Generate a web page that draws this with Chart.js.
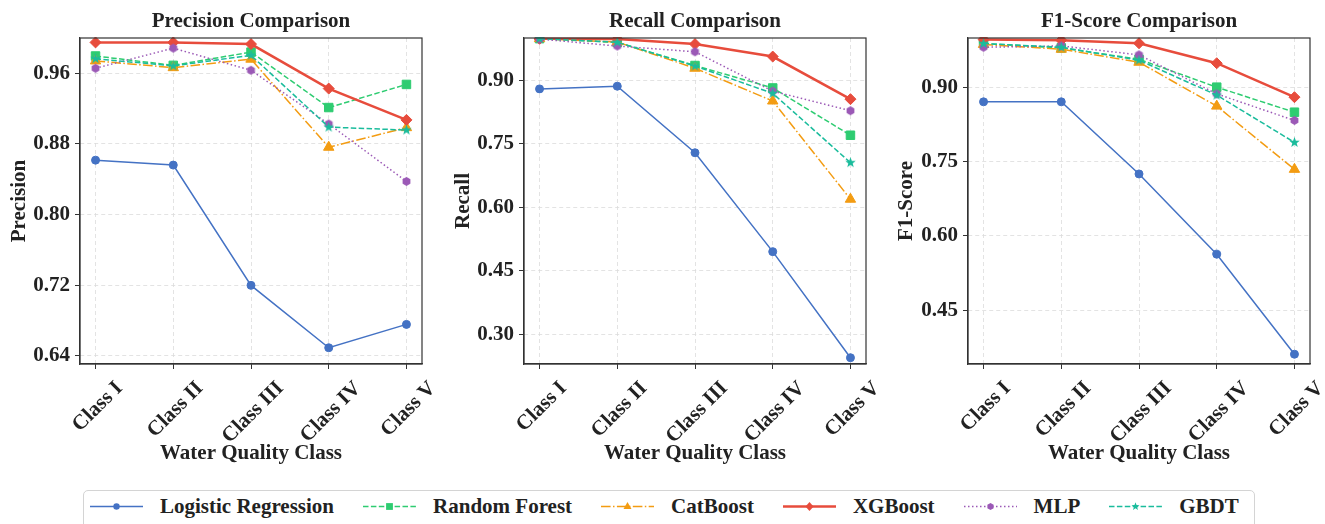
<!DOCTYPE html>
<html>
<head>
<meta charset="utf-8">
<title>Model comparison by water quality class</title>
<script src="https://cdn.jsdelivr.net/npm/chart.js@4.4.0/dist/chart.umd.min.js"></script>
<style>
  html, body { margin: 0; padding: 0; background: #fff; }
  #wrap { position: relative; width: 1325px; height: 524px; overflow: hidden; }
  #wrap canvas { position: absolute; top: 0; }
  #legend {
    position: absolute; left: 83px; top: 490px; width: 1172px; height: 44px;
    box-sizing: border-box; border: 1px solid #d4d4d4; border-radius: 5px;
    display: flex; align-items: flex-start; padding: 4px 0 0 6px;
    font: bold 21px "Liberation Serif", "Times New Roman", serif; color: #222;
  }
  .item { display: flex; align-items: center; height: 23px; margin-right: 29px; white-space: nowrap; }
  .item svg { margin-right: 17px; }
</style>
</head>
<body>
<div id="wrap">
  <div id="legend"></div>
</div>
<script>
// categories and series
const classes = ['Class I', 'Class II', 'Class III', 'Class IV', 'Class V'];
const models = ['Logistic Regression', 'Random Forest', 'CatBoost', 'XGBoost', 'MLP', 'GBDT'];

// one row per model, same order as models
const precision = [
  [0.8616, 0.8560, 0.7197, 0.6490, 0.6755],
  [0.9796, 0.9690, 0.9840, 0.9212, 0.9474],
  [0.9740, 0.9664, 0.9760, 0.8762, 0.8984],
  [0.9950, 0.9950, 0.9931, 0.9427, 0.9072],
  [0.9657, 0.9885, 0.9634, 0.9026, 0.8375],
  [0.9765, 0.9684, 0.9804, 0.8990, 0.8957]
];
const recall = [
  [0.8798, 0.8862, 0.7290, 0.4955, 0.2450],
  [0.9985, 0.9896, 0.9350, 0.8820, 0.7704],
  [0.9985, 0.9905, 0.9286, 0.8512, 0.6193],
  [0.9980, 0.9975, 0.9856, 0.9562, 0.8556],
  [0.9975, 0.9810, 0.9675, 0.8745, 0.8283],
  [0.9985, 0.9900, 0.9337, 0.8693, 0.7057]
];
const f1 = [
  [0.8710, 0.8710, 0.7252, 0.5630, 0.3608],
  [0.9888, 0.9800, 0.9570, 0.9006, 0.8500],
  [0.9870, 0.9773, 0.9510, 0.8623, 0.7345],
  [0.9970, 0.9955, 0.9894, 0.9490, 0.8804],
  [0.9813, 0.9840, 0.9659, 0.8870, 0.8334],
  [0.9888, 0.9813, 0.9551, 0.8845, 0.7890]
];

// y tick labels per panel
const precisionTicks = [0.64, 0.72, 0.80, 0.88, 0.96];
const recallTicks = [0.30, 0.45, 0.60, 0.75, 0.90];
const f1Ticks = [0.45, 0.60, 0.75, 0.90];

const FONT = '"Liberation Serif", "Times New Roman", serif';
const SIZE = 21;
const INK = '#222';
Chart.defaults.font.family = FONT;
Chart.defaults.font.weight = 'bold';
Chart.defaults.font.size = SIZE;
Chart.defaults.color = INK;

const colors = ['#4472C4', '#2ECC71', '#F39C12', '#E74C3C', '#9B59B6', '#1ABC9C'];
const widths = [1.5, 1.5, 1.5, 2.5, 1.5, 1.5];
const dashes = [[], [5.5, 2.4], [9.6, 2.4, 1.5, 2.4], [], [1.5, 2.5], [5.5, 2.4]];

function hexagon(color, r) {
  const c = document.createElement('canvas');
  const s = Math.ceil(2 * r + 2);
  c.width = c.height = s;
  const g = c.getContext('2d');
  g.fillStyle = color;
  g.beginPath();
  for (let i = 0; i < 6; i++) {
    const a = Math.PI / 2 + i * Math.PI / 3;
    g.lineTo(s / 2 + r * Math.cos(a), s / 2 - r * Math.sin(a));
  }
  g.closePath();
  g.fill();
  return c;
}

function star(color, r) {
  const c = document.createElement('canvas');
  const s = Math.ceil(2 * r + 2);
  c.width = c.height = s;
  const g = c.getContext('2d');
  g.fillStyle = color;
  g.beginPath();
  for (let i = 0; i < 10; i++) {
    const a = Math.PI / 2 + i * Math.PI / 5;
    const rr = i % 2 ? r * 0.42 : r;
    g.lineTo(s / 2 + rr * Math.cos(a), s / 2 - rr * Math.sin(a));
  }
  g.closePath();
  g.fill();
  return c;
}

const markers = ['circle', 'rect', 'triangle', 'rectRot', hexagon(colors[4], 4.5), star(colors[5], 5.5)];
const radii = [4, 6, 6, 5.5, 4, 4];

// full box around the plot area
const framePlugin = {
  id: 'frame',
  afterDatasetsDraw(chart) {
    const { ctx, chartArea: a } = chart;
    ctx.save();
    ctx.strokeStyle = '#333';
    ctx.lineWidth = 1.2;
    ctx.strokeRect(a.left, a.top, a.right - a.left, a.bottom - a.top);
    ctx.restore();
  }
};

// panel title centred over the plot area rather than the whole canvas
const panelTitlePlugin = {
  id: 'panelTitle',
  afterDraw(chart, args, opts) {
    const a = chart.chartArea;
    const ctx = chart.ctx;
    ctx.save();
    ctx.font = 'bold ' + SIZE + 'px ' + FONT;
    ctx.fillStyle = INK;
    ctx.textAlign = 'center';
    ctx.textBaseline = 'middle';
    ctx.fillText(opts.text, (a.left + a.right) / 2, 22);
    ctx.restore();
  }
};

// 45 degree class labels, centred under each tick
const classLabelPlugin = {
  id: 'classLabels',
  afterDraw(chart) {
    const x = chart.scales.x;
    const ctx = chart.ctx;
    ctx.save();
    ctx.font = 'bold ' + SIZE + 'px ' + FONT;
    ctx.fillStyle = INK;
    ctx.textAlign = 'center';
    ctx.textBaseline = 'middle';
    classes.forEach((c, i) => {
      const px = x.getPixelForValue(i);
      const w = ctx.measureText(c).width;
      const side = (w + 14) * Math.SQRT1_2;
      const cy = chart.chartArea.bottom + 14 + side / 2;
      ctx.save();
      ctx.translate(px, cy);
      ctx.rotate(-Math.PI / 4);
      ctx.fillText(c, 0, 3);
      ctx.restore();
    });
    ctx.restore();
  }
};

const grid = { color: '#dcdcdc', lineWidth: 0.8, tickLength: 5, tickColor: '#333', tickWidth: 1, tickBorderDash: [] };
const border = { display: true, color: '#333', width: 1.2, dash: [4, 3] };

const panels = [
  { title: 'Precision Comparison', yLabel: 'Precision', values: precision, ticks: precisionTicks, min: 0.6306,
    left: 0, width: 440, yWidth: 80, rightPad: 18, yTitlePad: 7 },
  { title: 'Recall Comparison', yLabel: 'Recall', values: recall, ticks: recallTicks, min: 0.2302,
    left: 440, width: 440, yWidth: 84, rightPad: 14, yTitlePad: 11 },
  { title: 'F1-Score Comparison', yLabel: 'F1-Score', values: f1, ticks: f1Ticks, min: 0.341,
    left: 880, width: 445, yWidth: 88, rightPad: 15, yTitlePad: 14 }
];

const wrap = document.getElementById('wrap');

panels.forEach(p => {
  const canvas = document.createElement('canvas');
  canvas.width = p.width;
  canvas.height = 475;
  canvas.style.left = p.left + 'px';
  wrap.insertBefore(canvas, wrap.firstChild);

  new Chart(canvas, {
    type: 'line',
    data: {
      datasets: models.map((m, k) => ({
        label: m,
        data: p.values[k].map((v, i) => ({ x: i, y: v })),
        borderColor: colors[k],
        backgroundColor: colors[k],
        borderWidth: widths[k],
        borderDash: dashes[k],
        pointStyle: markers[k],
        pointRadius: radii[k],
        pointBorderWidth: 1,
        pointBackgroundColor: colors[k],
        pointBorderColor: colors[k],
        tension: 0,
        clip: 1,
        order: models.length - k
      }))
    },
    options: {
      responsive: false,
      animation: false,
      devicePixelRatio: 1,
      layout: { padding: { left: 0, right: p.rightPad, top: 38, bottom: 0 } },
      plugins: {
        legend: { display: false },
        tooltip: { enabled: false },
        title: { display: false },
        panelTitle: { text: p.title }
      },
      scales: {
        x: {
          type: 'linear', min: -0.2, max: 4.2,
          afterBuildTicks: s => { s.ticks = classes.map((c, i) => ({ value: i })); },
          afterFit: s => { s.height = 111; },
          ticks: { display: false },
          grid, border,
          title: { display: true, text: 'Water Quality Class', padding: { top: 0, bottom: 9 }, color: INK, font: { size: SIZE, weight: 'bold' } }
        },
        y: {
          type: 'linear', min: p.min, max: 1.0,
          afterBuildTicks: s => { s.ticks = p.ticks.map(v => ({ value: v })); },
          afterFit: s => { s.width = p.yWidth; },
          ticks: { callback: v => Number(v).toFixed(2), padding: 5, color: INK, font: { size: SIZE, weight: 'bold' } },
          grid, border,
          title: { display: true, text: p.yLabel, padding: { top: p.yTitlePad, bottom: 0 }, color: INK, font: { size: SIZE, weight: 'bold' } }
        }
      }
    },
    plugins: [framePlugin, panelTitlePlugin, classLabelPlugin]
  });
});

// shared legend under the three panels
function legendMarker(k) {
  const c = colors[k];
  const cx = 26.5, cy = 11.5;
  switch (k) {
    case 0: return `<circle cx="${cx}" cy="${cy}" r="3.2" fill="${c}"/>`;
    case 1: return `<rect x="${cx - 3.4}" y="${cy - 3.4}" width="6.8" height="6.8" fill="${c}"/>`;
    case 2: return `<polygon points="${cx},${cy - 4.5} ${cx + 4},${cy + 2.6} ${cx - 4},${cy + 2.6}" fill="${c}"/>`;
    case 3: return `<polygon points="${cx},${cy - 4.6} ${cx + 4},${cy} ${cx},${cy + 4.6} ${cx - 4},${cy}" fill="${c}"/>`;
    case 4: {
      const pts = [];
      for (let i = 0; i < 6; i++) { const a = Math.PI / 2 + i * Math.PI / 3; pts.push((cx + 3.6 * Math.cos(a)).toFixed(2) + ',' + (cy - 3.6 * Math.sin(a)).toFixed(2)); }
      return `<polygon points="${pts.join(' ')}" fill="${c}"/>`;
    }
    default: {
      const pts = [];
      for (let i = 0; i < 10; i++) { const a = Math.PI / 2 + i * Math.PI / 5; const r = i % 2 ? 1.7 : 4.2; pts.push((cx + r * Math.cos(a)).toFixed(2) + ',' + (cy - r * Math.sin(a)).toFixed(2)); }
      return `<polygon points="${pts.join(' ')}" fill="${c}"/>`;
    }
  }
}

const legend = document.getElementById('legend');
models.forEach((m, k) => {
  const item = document.createElement('div');
  item.className = 'item';
  const dash = dashes[k].length ? `stroke-dasharray="${dashes[k].join(' ')}"` : '';
  item.innerHTML =
    `<svg width="53" height="23" viewBox="0 0 53 23">` +
    `<line x1="0" y1="11.5" x2="53" y2="11.5" stroke="${colors[k]}" stroke-width="${widths[k]}" ${dash}/>` +
    legendMarker(k) + `</svg><span>${m}</span>`;
  legend.appendChild(item);
});
</script>
</body>
</html>
